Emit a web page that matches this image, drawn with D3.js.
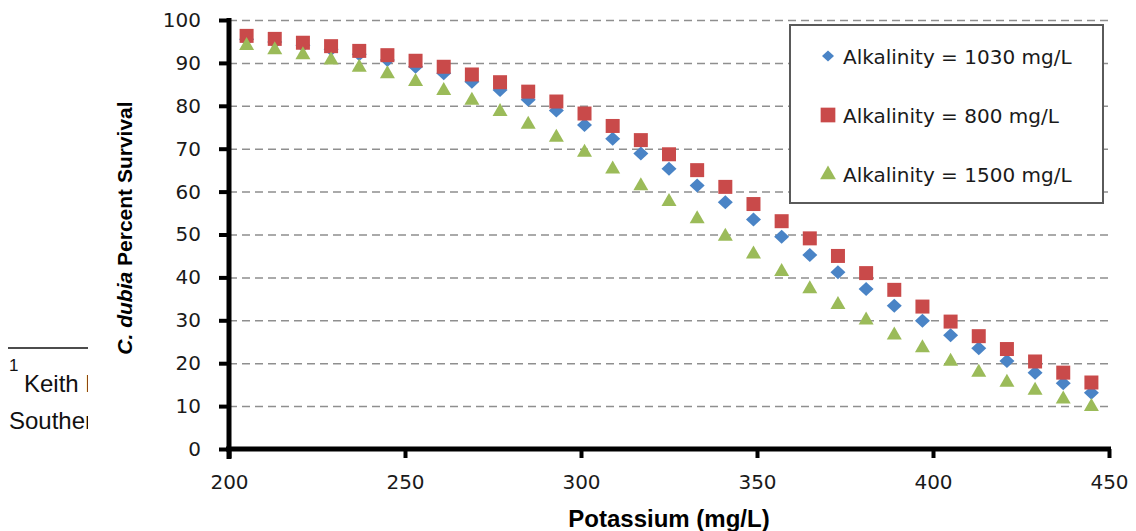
<!DOCTYPE html>
<html>
<head>
<meta charset="utf-8">
<script src="https://cdn.jsdelivr.net/npm/d3@7"></script>
<style>
body { margin: 0; background: #fff; }
svg { display: block; }
.axis text { font-family: "DejaVu Sans", sans-serif; font-size: 20px; fill: #1a1a1a; }
.grid line { stroke: #8f8f8f; stroke-width: 1.5; stroke-dasharray: 8 5; }
.grid path { display: none; }
</style>
</head>
<body>
<div id="chart"></div>
<script>
const width = 1136
const height = 531

// Data
const potassium = [205, 213, 221, 229, 237, 245, 253, 261, 269, 277, 285, 293, 301, 309, 317, 325,
    333, 341, 349, 357, 365, 373, 381, 389, 397, 405, 413, 421, 429, 437, 445]
const alk1030 = [95.5, 94.9, 94.1, 93.2, 92.0, 90.7, 89.1, 87.6, 85.6, 83.7, 81.4, 78.9, 75.5, 72.3, 68.9, 65.3,
    61.4, 57.5, 53.5, 49.5, 45.2, 41.2, 37.3, 33.4, 29.9, 26.5, 23.5, 20.5, 17.8, 15.3, 13.1]
const alk800 = [96.3, 95.6, 94.7, 93.9, 92.8, 91.8, 90.5, 89.1, 87.3, 85.5, 83.3, 81.0, 78.2, 75.3, 72.0, 68.7,
    65.0, 61.1, 57.1, 53.1, 49.1, 45.0, 41.0, 37.1, 33.2, 29.7, 26.3, 23.3, 20.4, 17.8, 15.5]
const alk1500 = [94.2, 93.2, 92.0, 90.8, 89.1, 87.6, 85.8, 83.7, 81.4, 78.8, 75.8, 72.8, 69.3, 65.4, 61.5, 57.8,
    53.8, 49.7, 45.6, 41.5, 37.5, 33.8, 30.2, 26.7, 23.7, 20.6, 18.0, 15.7, 13.8, 11.8, 10.0]
const seriesNames = ["Alkalinity = 1030 mg/L", "Alkalinity = 800 mg/L", "Alkalinity = 1500 mg/L"]
const xTicks = [200, 250, 300, 350, 400, 450]
const yTicks = [0, 10, 20, 30, 40, 50, 60, 70, 80, 90, 100]

const series = [
    {name: seriesNames[0], values: alk1030, color: "#4A84C6", shape: "M0,-7L7.5,0L0,7L-7.5,0Z"},
    {name: seriesNames[1], values: alk800, color: "#C94A4A", shape: "M-7,-7H7V7H-7Z"},
    {name: seriesNames[2], values: alk1500, color: "#9BBB59", shape: "M0,-8L7.5,5L-7.5,5Z"}
]

const svg = d3.select("div#chart").append("svg").attr("width", width).attr("height", height)

// Footnote peeking out from the page behind the chart
const clip = svg.append("clipPath").attr("id", "noteClip")
clip.append("rect").attr("x", 0).attr("y", 0).attr("width", 88).attr("height", height)
const note = svg.append("g").attr("clip-path", "url(#noteClip)")
    .style("font-family", "'Liberation Sans', sans-serif").style("fill", "#111")
note.append("line").attr("x1", 8).attr("x2", 100).attr("y1", 348).attr("y2", 348)
    .attr("stroke", "#111").attr("stroke-width", 1.3)
note.append("text").attr("x", 9).attr("y", 371).style("font-size", "17px").text("1")
note.append("text").attr("x", 24).attr("y", 392).style("font-size", "24px").text("Keith D")
note.append("text").attr("x", 9).attr("y", 429).style("font-size", "24px").text("Southern")

// Scales
const x = d3.scaleLinear().domain([200, 450]).range([229, 1109])
const y = d3.scaleLinear().domain([0, 100]).range([449, 20])

// Dashed gridlines
svg.append("g").attr("class", "grid")
    .attr("transform", `translate(${x(200)}, 0)`)
    .call(d3.axisLeft(y).tickValues(yTicks.filter(v => v > 0)).tickSize(-(x(450) - x(200) + 2)).tickFormat(""))

// Legend
const legend = svg.append("g").attr("id", "legend")
legend.append("rect").attr("x", 790).attr("y", 25).attr("width", 313).attr("height", 178)
    .attr("fill", "#fff").attr("stroke", "#5a5a5a").attr("stroke-width", 2)
series.forEach((s, i) => {
    const ly = 56 + i * 59
    legend.append("path").attr("d", s.shape).attr("fill", s.color)
        .attr("transform", `translate(828, ${ly}) scale(${i === 0 ? 0.8 : 1.05})`)
    legend.append("text").attr("x", 843).attr("y", ly + 8)
        .style("font-family", "'DejaVu Sans', sans-serif").style("font-size", "20px").style("fill", "#1a1a1a")
        .text(s.name)
})

// Points
series.forEach(s => {
    svg.append("g").selectAll("path")
        .data(potassium.map((k, i) => ({k: k, v: s.values[i]})))
        .enter().append("path")
        .attr("d", s.shape)
        .attr("fill", s.color)
        .attr("transform", d => `translate(${x(d.k)}, ${y(d.v)})`)
})

// Axes
const yAxisGroup = svg.append("g").attr("class", "axis")
    .attr("transform", `translate(${x(200)}, 0)`)
    .call(d3.axisLeft(y).tickValues(yTicks).tickSize(10).tickPadding(18).tickSizeOuter(0))
const xAxisGroup = svg.append("g").attr("class", "axis")
    .attr("transform", `translate(0, ${y(0)})`)
    .call(d3.axisBottom(x).tickValues(xTicks).tickSize(9).tickPadding(17).tickSizeOuter(0))
svg.selectAll(".axis path.domain").remove()
svg.selectAll(".axis .tick line").attr("stroke", "#000").attr("stroke-width", 4)

svg.append("line").attr("x1", x(200)).attr("x2", x(200)).attr("y1", y(100) - 2).attr("y2", y(0) + 10)
    .attr("stroke", "#000").attr("stroke-width", 5)
svg.append("line").attr("x1", x(200) - 3).attr("x2", x(450) + 2).attr("y1", y(0)).attr("y2", y(0))
    .attr("stroke", "#000").attr("stroke-width", 5)

// Axis titles
svg.append("text")
    .attr("x", 669).attr("y", 527)
    .attr("text-anchor", "middle")
    .style("font-family", "'Liberation Sans', sans-serif").style("font-weight", "bold").style("font-size", "24px")
    .text("Potassium (mg/L)")

const yTitle = svg.append("text")
    .attr("transform", "translate(132, 228) rotate(-90)")
    .attr("text-anchor", "middle")
    .style("font-family", "'Liberation Sans', sans-serif").style("font-weight", "bold").style("font-size", "21px")
yTitle.append("tspan").style("font-style", "italic").text("C. dubia")
yTitle.append("tspan").text(" Percent Survival")
</script>
</body>
</html>
